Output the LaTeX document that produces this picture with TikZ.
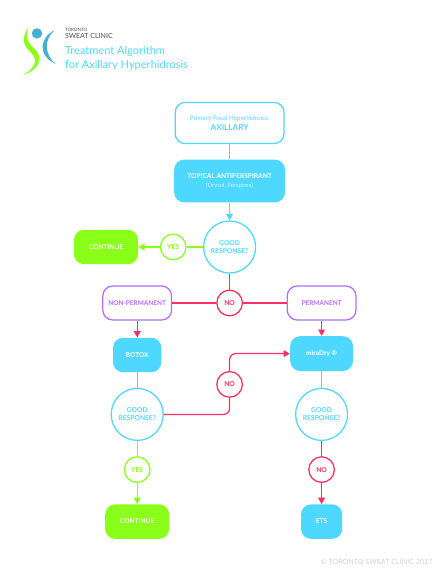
\documentclass[tikz,border=0pt]{standalone}
\usepackage{fontspec}
\setmainfont{Lato}
\usepackage{xcolor}
\usepackage{tikz}
\usetikzlibrary{positioning,arrows.meta,calc}
\definecolor{sky}{HTML}{4FD8FF}
\definecolor{lime}{HTML}{8AFF1A}
\definecolor{rose}{HTML}{FF2E63}
\definecolor{plum}{HTML}{B46EF5}
\definecolor{logoblue}{HTML}{43AFD2}
\tikzset{
  solidbox/.style={rectangle, rounded corners=2.5mm, fill=sky, text=white, align=center, inner sep=0pt, font=\fontsize{4.7}{6}\selectfont\bfseries},
  framebox/.style={rectangle, rounded corners=2.5mm, draw=sky, fill=white, line width=0.9pt, text=sky, align=center, inner sep=0pt, font=\fontsize{4.5}{7}\selectfont},
  donebox/.style={rectangle, rounded corners=2.5mm, fill=lime, text=white, minimum width=1.6cm, minimum height=0.86cm, inner sep=0pt, font=\fontsize{4.7}{6}\selectfont\bfseries},
  classbox/.style={rectangle, rounded corners=2.5mm, draw=plum, fill=white, line width=0.9pt, text=plum, font=\fontsize{4.6}{6}\selectfont\bfseries, minimum width=1.72cm, minimum height=0.85cm, inner sep=0pt},
  askc/.style={circle, draw=sky, fill=white, line width=0.9pt, text=sky, minimum size=1.3cm, inner sep=0pt, align=center, font=\fontsize{4.8}{5.7}\selectfont\bfseries},
  yesc/.style={circle, draw=lime, fill=white, line width=0.9pt, text=lime, minimum size=0.64cm, inner sep=0pt, font=\fontsize{4.8}{6}\selectfont\bfseries},
  noc/.style={circle, draw=rose, fill=white, line width=0.9pt, text=rose, minimum size=0.64cm, inner sep=0pt, font=\fontsize{4.8}{6}\selectfont\bfseries},
  skyline/.style={draw=sky, line width=0.9pt},
  limeline/.style={draw=lime, line width=0.9pt},
  roseline/.style={draw=rose, line width=0.9pt},
  >={Triangle[length=1.6mm,width=1.7mm]},
}

\begin{document}
\begin{tikzpicture}
\useasboundingbox (0,0) rectangle (11.125,-14.5);

% logo
\fill[logoblue] (0.925,-0.835) circle (0.13);
\fill[logoblue] (1.375,-0.75) .. controls (1.0,-0.92) and (0.92,-1.38) .. (1.39,-1.6) .. controls (1.12,-1.38) and (1.08,-0.98) .. cycle;
\fill[lime] (0.71,-0.67) .. controls (0.5,-1.0) and (0.62,-1.18) .. (0.78,-1.32) .. controls (0.98,-1.52) and (0.85,-1.72) .. (0.58,-1.875) .. controls (1.0,-1.74) and (1.08,-1.42) .. (0.88,-1.24) .. controls (0.68,-1.06) and (0.62,-0.92) .. cycle;

\node[font=\fontsize{3.2}{3.6}\selectfont, text=black!70, anchor=west, inner sep=0pt] (toronto) at (1.62,-0.75) {TORONTO};
\node[font=\fontsize{5}{6}\selectfont, text=black!70, anchor=west, inner sep=0pt] (sweat) at (1.62,-0.9) {SWEAT CLINIC};
\node[font=\fontsize{7.85}{10}\selectfont, text=sky, anchor=west, inner sep=0pt] (title1) at (1.62,-1.275) {Treatment Algorithm};
\node[font=\fontsize{7.85}{10}\selectfont, text=sky, anchor=west, inner sep=0pt] (title2) at (1.62,-1.625) {for Axillary Hyperhidrosis};

% flow nodes
\node[framebox, minimum width=2.72cm, minimum height=1.03cm] (primary) at (5.74,-3.075)
  {Primary Focal Hyperhidrosis:\\{\fontsize{5.8}{7}\selectfont\bfseries AXILLARY}};
\node[solidbox, minimum width=2.77cm, minimum height=1.07cm] (topical) at (5.74,-4.525)
  {TOPICAL ANTIPERSPIRANT\\{\fontsize{4.2}{5}\selectfont\mdseries\color{white!75!sky} (Drysol, Perspirex)}};
\node[askc] (good1) at (5.74,-6.175) {GOOD\\RESPONSE?};
\node[yesc] (yes1) at (4.33,-6.175) {YES};
\node[donebox] (cont1) at (2.65,-6.175) {CONTINUE};
\node[noc] (no1) at (5.74,-7.575) {NO};
\node[classbox] (nonperm) at (3.43,-7.575) {NON-PERMANENT};
\node[classbox] (perm) at (8.04,-7.575) {PERMANENT};
\node[solidbox, minimum width=1.21cm, minimum height=0.86cm] (botox) at (3.43,-8.875) {BOTOX};
\node[solidbox, minimum width=1.57cm, minimum height=0.87cm] (miradry) at (8.04,-8.84) {miraDry ®};
\node[askc] (good2) at (3.43,-10.36) {GOOD\\RESPONSE?};
\node[askc] (good3) at (8.04,-10.36) {GOOD\\RESPONSE?};
\node[noc] (no2) at (5.74,-9.61) {NO};
\node[yesc] (yes2) at (3.43,-11.74) {YES};
\node[noc] (no3) at (8.04,-11.74) {NO};
\node[donebox] (cont2) at (3.43,-13.04) {CONTINUE};
\node[solidbox, minimum width=1.03cm, minimum height=0.86cm] (ets) at (8.04,-13.04) {ETS};

\node[font=\fontsize{5.1}{6.4}\selectfont, text=black!18, anchor=east, inner sep=0pt] (copy) at (10.82,-14.05) {© TORONTO SWEAT CLINIC 2017};

% connectors
\draw[skyline] (primary) -- (topical);
\draw[skyline,->] (topical) -- (good1);
\draw[limeline] (good1) -- (yes1);
\draw[limeline,->] (yes1) -- (cont1);
\draw[roseline] (good1) -- (no1);
\draw[roseline] (no1) -- (nonperm);
\draw[roseline] (no1) -- (perm);
\draw[roseline,->] (nonperm) -- (botox);
\draw[roseline,->] (perm) -- (miradry);
\draw[skyline] (botox) -- (good2);
\draw[skyline] (miradry) -- (good3);
\draw[roseline, rounded corners=1.5mm] (good2) -| (no2);
\draw[roseline, rounded corners=1.5mm, ->] (no2) |- (miradry);
\draw[limeline] (good2) -- (yes2);
\draw[limeline,->] (yes2) -- (cont2);
\draw[roseline] (good3) -- (no3);
\draw[roseline,->] (no3) -- (ets);
\end{tikzpicture}
\end{document}
